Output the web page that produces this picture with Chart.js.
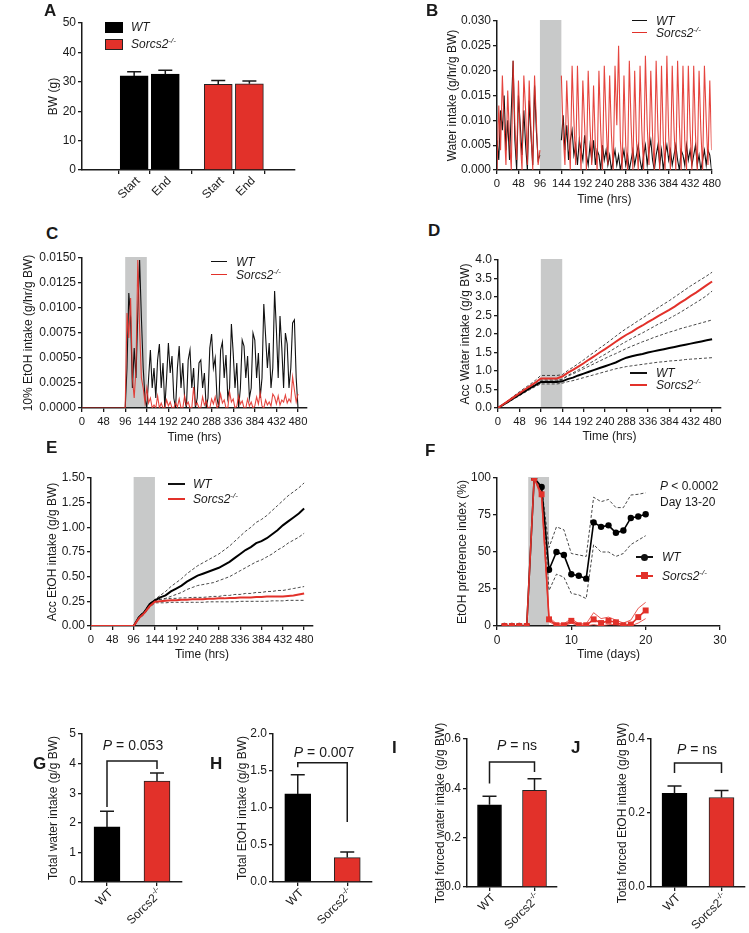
<!DOCTYPE html>
<html>
<head>
<meta charset="utf-8">
<script src="https://cdn.jsdelivr.net/npm/chart.js@4.4.1/dist/chart.umd.min.js"></script>
<style>
  body { margin: 0; background: #fff; width: 749px; height: 933px; position: relative; overflow: hidden;
         font-family: 'Liberation Sans', Arial, sans-serif; color: #1a1a1a; }
  canvas { position: absolute; }
  .L { position: absolute; font-weight: bold; font-size: 17px; line-height: 17px; }
  .t { position: absolute; font-size: 12px; line-height: 14px; white-space: nowrap; }
  .p { position: absolute; font-size: 14px; line-height: 16px; white-space: nowrap; transform: translate(-50%, -50%); }
  .ln { position: absolute; }
  i { font-style: italic; }
  sup { font-size: 8px; vertical-align: 5px; line-height: 0; }
</style>
</head>
<body>
<canvas id="cA"></canvas><canvas id="cB"></canvas><canvas id="cC"></canvas><canvas id="cD"></canvas>
<canvas id="cE"></canvas><canvas id="cF"></canvas><canvas id="cG"></canvas><canvas id="cH"></canvas>
<canvas id="cI"></canvas><canvas id="cJ"></canvas>

<div class="L" style="left:44px;top:2px">A</div>
<div class="L" style="left:426px;top:2px">B</div>
<div class="L" style="left:46px;top:225px">C</div>
<div class="L" style="left:428px;top:222px">D</div>
<div class="L" style="left:46px;top:439px">E</div>
<div class="L" style="left:425px;top:442px">F</div>
<div class="L" style="left:33px;top:755px">G</div>
<div class="L" style="left:210px;top:755px">H</div>
<div class="L" style="left:392px;top:739px">I</div>
<div class="L" style="left:571px;top:739px">J</div>

<!-- A legend -->
<div class="ln" style="left:105px;top:22px;width:16px;height:9px;background:#000;border:1px solid #000"></div>
<div class="ln" style="left:105px;top:39px;width:16px;height:9px;background:#e2312a;border:1px solid #222"></div>
<div class="t" style="left:131px;top:20px"><i>WT</i></div>
<div class="t" style="left:131px;top:37px"><i>Sorcs2<sup>-/-</sup></i></div>
<!-- B legend -->
<div class="ln" style="left:632px;top:20px;width:15px;height:1.2px;background:#111"></div>
<div class="ln" style="left:632px;top:32px;width:15px;height:1.2px;background:#e2312a"></div>
<div class="t" style="left:656px;top:14px"><i>WT</i></div>
<div class="t" style="left:656px;top:26px"><i>Sorcs2<sup>-/-</sup></i></div>
<!-- C legend -->
<div class="ln" style="left:211px;top:261px;width:16px;height:1.2px;background:#111"></div>
<div class="ln" style="left:211px;top:274px;width:16px;height:1.2px;background:#e2312a"></div>
<div class="t" style="left:236px;top:255px"><i>WT</i></div>
<div class="t" style="left:236px;top:268px"><i>Sorcs2<sup>-/-</sup></i></div>
<!-- D legend -->
<div class="ln" style="left:630px;top:372px;width:17px;height:2px;background:#111"></div>
<div class="ln" style="left:630px;top:384px;width:17px;height:2px;background:#e2312a"></div>
<div class="t" style="left:656px;top:366px"><i>WT</i></div>
<div class="t" style="left:656px;top:378px"><i>Sorcs2<sup>-/-</sup></i></div>
<!-- E legend -->
<div class="ln" style="left:168px;top:483px;width:17px;height:2px;background:#111"></div>
<div class="ln" style="left:168px;top:498px;width:17px;height:2px;background:#e2312a"></div>
<div class="t" style="left:193px;top:477px"><i>WT</i></div>
<div class="t" style="left:193px;top:492px"><i>Sorcs2<sup>-/-</sup></i></div>
<!-- F legend and note -->
<div class="ln" style="left:636px;top:556px;width:17px;height:1.5px;background:#111"></div>
<div class="ln" style="left:641px;top:554px;width:7px;height:7px;background:#111;border-radius:50%"></div>
<div class="ln" style="left:636px;top:575px;width:17px;height:1.5px;background:#e2312a"></div>
<div class="ln" style="left:641px;top:572px;width:7px;height:7px;background:#e2312a"></div>
<div class="t" style="left:662px;top:550px"><i>WT</i></div>
<div class="t" style="left:662px;top:569px"><i>Sorcs2<sup>-/-</sup></i></div>
<div class="t" style="left:660px;top:479px"><i>P</i> &lt; 0.0002</div>
<div class="t" style="left:660px;top:495px">Day 13-20</div>
<!-- P values -->
<div class="p" style="left:133px;top:745px"><i>P</i> = 0.053</div>
<div class="p" style="left:324px;top:752px"><i>P</i> = 0.007</div>
<div class="p" style="left:517px;top:745px"><i>P</i> = ns</div>
<div class="p" style="left:697px;top:749px"><i>P</i> = ns</div>

<script>
const INK = '#1a1a1a';
const RED = '#e2312a';

// ---------- data ----------
// A: body weight
const aLabels = ['Start', 'End', 'Start', 'End'];
const aSlots = [1, 2, 3.7, 4.7];
const aWT = [32.0, 32.6];
const aWTerr = [1.4, 1.35];
const aKO = [29.1, 29.3];
const aKOerr = [1.3, 1.0];
const aYTicks = [0, 10, 20, 30, 40, 50];

// B: water intake, one value every 4 h (null = no water bottle)
const B_STEP = 4;
const bWT = [
  .006, .002, .012, .008, .015, .004, .010, .002, .012, .022, .006, .000, .015, .009, .003, .012, .005, .000,
  .014, .007, .001, .017, .008, .002, .003,
  null, null, null, null, null, null, null, null, null, null, null,
  .006, .011, .004, .009, .002, .006, .008, .003, .005, .001, .006, .004, .002, .007, .003, .001, .005, .002,
  .006, .001, .004, .003, .000, .005, .002, .004, .001, .003, .000, .002, .004, .001, .003, .000, .002, .004,
  .001, .003, .000, .002, .004, .001, .003, .005, .002, .000, .003, .005, .001, .004, .006, .002, .000, .003,
  .005, .001, .004, .000, .003, .005, .002, .004, .001, .003, .005, .002, .000, .004, .003, .001, .005, .002,
  .004, .001, .003, .005, .001, .003, .000, .002, .004, .001, .004, .003, .000
];
const bKO = [
  .000, .013, .004, .019, .009, .001, .016, .006, .000, .022, .009, .002, .018, .006, .000, .019, .012, .001,
  .018, .008, .000, .019, .010, .001, .004,
  null, null, null, null, null, null, null, null, null, null, null,
  .019, .007, .001, .018, .008, .000, .021, .010, .001, .021, .007, .000, .018, .009, .000, .020, .009, .001,
  .017, .005, .000, .020, .008, .000, .021, .010, .001, .019, .007, .000, .021, .009, .025, .006, .000, .019,
  .005, .000, .022, .009, .000, .020, .006, .000, .021, .008, .000, .023, .009, .001, .020, .007, .000, .022,
  .008, .000, .021, .006, .000, .023, .007, .000, .021, .008, .000, .022, .009, .000, .021, .006, .000, .021,
  .008, .000, .021, .007, .000, .020, .008, .000, .021, .010, .001, .018, .004
];
const bYTicks = [0, 0.005, 0.010, 0.015, 0.020, 0.025, 0.030];
const hourTicks = [0, 48, 96, 144, 192, 240, 288, 336, 384, 432, 480];

// C: 10% EtOH intake, one value every 4 h
const C_STEP = 4;
const cWT = [
  0, 0, 0, 0, 0, 0, 0, 0, 0, 0, 0, 0, 0, 0, 0, 0, 0, 0, 0, 0, 0, 0, 0, 0,
  0, .004, .0115, .009, .002, .006, .003, .0095, .0148, .009, .004, .001,
  .000, .003, .0058, .002, .004, .001, .0048, .0064, .002, .0045, .000, .003, .0065, .0035, .0052, .001, .000, .004,
  .0062, .002, .0045, .001, .000, .0048, .0058, .002, .004, .000, .001, .0045, .0048, .002, .0035, .000, .001, .006,
  .0074, .004, .005, .001, .000, .0058, .0066, .003, .0053, .001, .002, .0084, .0055, .002, .0045, .000, .002, .0068,
  .0062, .003, .0052, .001, .002, .0075, .0068, .003, .0055, .001, .003, .0104, .0072, .004, .0065, .002, .004, .0117,
  .0078, .003, .0092, .006, .002, .0075, .0064, .002, .004, .0085, .0088, .003, .000
];
const cKO = [
  0, 0, 0, 0, 0, 0, 0, 0, 0, 0, 0, 0, 0, 0, 0, 0, 0, 0, 0, 0, 0, 0, 0, 0,
  0, .0095, .007, .011, .003, .001, .004, .0148, .008, .003, .002, .0005,
  .002, .0005, .001, .000, .0003, .000, .0012, .000, .0005, 0, 0, .0008, .0002, .0006, 0, 0, .0005, .0001,
  .0009, 0, 0, .0012, .0003, .0006, 0, 0, .0021, .0003, .0005, 0, 0, .0011, .0003, .0007, 0, 0,
  .0009, .0004, .0011, 0, .0003, .0014, .0005, .0008, 0, 0, .0016, .0006, .0009, 0, .0002, .0012, .0004, .0007,
  0, 0, .0009, .0002, .0006, 0, .0002, .0011, .0004, .0015, .0002, 0, .0008, .0003, .0006, .0002, .0014, .0011,
  .0004, .0012, .0003, .0008, .0006, .0013, .0005, .0009, .0006, .0031, .0018, .0006, .0014
];
const cYTicks = [0, 0.0025, 0.0050, 0.0075, 0.0100, 0.0125, 0.0150];

// D: accumulated water intake, every 12 h (mean and mean +/- SEM)
const D_STEP = 12;
const dWT = [0, .09, .18, .27, .36, .45, .54, .62, .70, .70, .70, .70, .72,
  .78, .82, .88, .93, .98, 1.03, 1.08, 1.13, 1.18, 1.23, 1.30, 1.36, 1.40, 1.43, 1.46, 1.50,
  1.53, 1.56, 1.59, 1.62, 1.65, 1.68, 1.71, 1.74, 1.77, 1.80, 1.83, 1.86];
const dWTup = [0, .10, .20, .29, .39, .48, .58, .67, .76, .76, .76, .76, .78,
  .86, .92, .99, 1.06, 1.13, 1.20, 1.27, 1.34, 1.41, 1.47, 1.54, 1.61, 1.67, 1.73, 1.79, 1.84,
  1.90, 1.95, 2.00, 2.05, 2.09, 2.14, 2.18, 2.22, 2.26, 2.30, 2.34, 2.38];
const dWTlo = [0, .08, .16, .25, .33, .42, .50, .58, .65, .65, .65, .65, .67,
  .71, .74, .78, .82, .86, .90, .94, .98, 1.02, 1.06, 1.09, 1.12, 1.14, 1.16, 1.18, 1.20,
  1.22, 1.24, 1.25, 1.27, 1.28, 1.29, 1.31, 1.32, 1.33, 1.34, 1.35, 1.36];
const dKO = [0, .10, .20, .30, .40, .50, .59, .69, .80, .80, .80, .80, .85,
  .95, 1.03, 1.12, 1.21, 1.31, 1.40, 1.50, 1.59, 1.69, 1.79, 1.89, 1.98, 2.06, 2.15, 2.23, 2.32,
  2.40, 2.49, 2.57, 2.65, 2.74, 2.84, 2.93, 3.03, 3.12, 3.22, 3.32, 3.42];
const dKOup = [0, .11, .22, .33, .44, .54, .64, .75, .88, .88, .88, .88, .90,
  1.01, 1.10, 1.20, 1.30, 1.41, 1.51, 1.62, 1.72, 1.83, 1.94, 2.05, 2.15, 2.24, 2.34, 2.43, 2.53,
  2.62, 2.72, 2.81, 2.90, 3.00, 3.10, 3.20, 3.30, 3.39, 3.48, 3.57, 3.67];
const dKOlo = [0, .09, .18, .27, .36, .46, .54, .63, .73, .73, .73, .73, .77,
  .88, .95, 1.03, 1.11, 1.20, 1.28, 1.37, 1.45, 1.54, 1.63, 1.72, 1.80, 1.88, 1.96, 2.03, 2.11,
  2.19, 2.27, 2.34, 2.42, 2.50, 2.58, 2.67, 2.76, 2.85, 2.94, 3.04, 3.16];
const dYTicks = [0, 0.5, 1.0, 1.5, 2.0, 2.5, 3.0, 3.5, 4.0];

// E: accumulated EtOH intake, every 12 h
const E_STEP = 12;
const eWT = [0, 0, 0, 0, 0, 0, 0, 0, 0, .09, .14, .22, .26,
  .29, .31, .35, .38, .41, .45, .48, .51, .53, .55, .57, .59, .62, .65, .69, .73,
  .77, .80, .84, .86, .89, .93, .97, 1.02, 1.06, 1.10, 1.14, 1.19];
const eWTup = [0, 0, 0, 0, 0, 0, 0, 0, 0, .10, .15, .23, .27,
  .31, .35, .40, .44, .48, .53, .57, .61, .64, .67, .70, .73, .77, .81, .86, .91,
  .96, 1.00, 1.05, 1.08, 1.12, 1.17, 1.22, 1.27, 1.32, 1.36, 1.40, 1.45];
const eWTlo = [0, 0, 0, 0, 0, 0, 0, 0, 0, .08, .13, .21, .25,
  .27, .28, .30, .32, .34, .37, .39, .41, .42, .43, .44, .46, .48, .50, .53, .56,
  .59, .62, .65, .67, .70, .73, .77, .80, .84, .87, .90, .94];
const eKO = [0, 0, 0, 0, 0, 0, 0, 0, 0, .08, .13, .20, .245,
  .25, .255, .26, .26, .265, .265, .27, .27, .27, .275, .275, .28, .28, .285, .285, .29,
  .29, .29, .295, .295, .30, .30, .30, .30, .305, .31, .32, .33];
const eKOup = [0, 0, 0, 0, 0, 0, 0, 0, 0, .09, .14, .21, .26,
  .27, .275, .28, .28, .285, .285, .29, .29, .29, .295, .30, .30, .31, .31, .32, .32,
  .33, .33, .34, .34, .35, .35, .36, .36, .37, .38, .39, .40];
const eKOlo = [0, 0, 0, 0, 0, 0, 0, 0, 0, .07, .12, .19, .235,
  .235, .235, .24, .24, .24, .24, .24, .24, .24, .245, .245, .245, .245, .245, .245, .25,
  .25, .25, .25, .25, .25, .255, .255, .255, .26, .26, .26, .26];
const eYTicks = [0, 0.25, 0.50, 0.75, 1.00, 1.25, 1.50];

// F: EtOH preference index per day
const fDays = [1, 2, 3, 4, 5, 6, 7, 8, 9, 10, 11, 12, 13, 14, 15, 16, 17, 18, 19, 20];
const fWT = [0, 0, 0, 0, 100, 94, 38, 50, 48, 35, 34, 32, 70, 67, 68, 63, 64.5, 73, 74, 75.5];
const fWTup = [null, null, null, null, null, 94, 53, 67, 65, 49, 48, 47, 87, 84, 85.5, 80, 80, 88.5, 89, 90];
const fWTlo = [null, null, null, null, null, 94, 24, 35, 33, 22, 21, 18.5, 55, 50, 50, 47, 49, 55, 58, 61];
const fKO = [0, 0, 0, 0, 100, 89, 4.5, 0.5, 0.5, 3.5, 0.5, 0.5, 4.5, 2, 3.5, 2.5, 0.5, 1, 6, 10.5];
const fKOup = [null, null, null, null, 100, 92, 6, 1.5, 1.5, 5, 1.5, 1.5, 9, 5, 6, 4, 2, 4, 12, 16];
const fKOlo = [null, null, null, null, 100, 86, 3, 0, 0, 2, 0, 0, 1, 0, 1, 1, 0, 0, 2, 5];
const fXTicks = [0, 10, 20, 30];
const fYTicks = [0, 25, 50, 75, 100];

// G-J: totals, WT vs Sorcs2-/-
const groups = ['WT', 'Sorcs2|-/-'];
const gVals = [1.86, 3.41];   const gErr = [0.53, 0.27];   const gTicks = [0, 1, 2, 3, 4, 5];
const hVals = [1.19, 0.33];   const hErr = [0.26, 0.075];  const hTicks = [0, 0.5, 1.0, 1.5, 2.0];
const iVals = [0.333, 0.392]; const iErr = [0.035, 0.047]; const iTicks = [0, 0.2, 0.4, 0.6];
const jVals = [0.253, 0.242]; const jErr = [0.02, 0.019];  const jTicks = [0, 0.2, 0.4];
// brackets: [top, left leg end, right leg end]
const gBracket = [4.09, 2.53, 3.82];
const hBracket = [1.61, 1.55, 0.81];
const iBracket = [0.507, 0.42, 0.466];
const jBracket = [0.335, 0.308, 0.308];

// ---------- plugins ----------
const shade = {
  id: 'shade',
  beforeDatasetsDraw(chart, args, o) {
    if (o.from == null) return;
    const xs = chart.scales.x, a = chart.chartArea, ctx = chart.ctx;
    const x1 = xs.getPixelForValue(o.from), x2 = xs.getPixelForValue(o.to);
    ctx.save();
    ctx.fillStyle = '#c8c9c9';
    ctx.fillRect(x1, a.top - 1, x2 - x1, a.bottom - a.top);
    ctx.restore();
  }
};

const errBars = {
  id: 'errBars',
  afterDatasetsDraw(chart) {
    const ctx = chart.ctx, ys = chart.scales.y;
    chart.data.datasets.forEach((ds, di) => {
      if (!ds.err) return;
      chart.getDatasetMeta(di).data.forEach((bar, i) => {
        const d = ds.data[i];
        const v = typeof d === 'object' ? d.y : d;
        const top = ys.getPixelForValue(v + ds.err[i]);
        ctx.save();
        ctx.strokeStyle = INK;
        ctx.lineWidth = 1.5;
        ctx.beginPath();
        ctx.moveTo(bar.x, bar.y);
        ctx.lineTo(bar.x, top);
        ctx.moveTo(bar.x - 7, top);
        ctx.lineTo(bar.x + 7, top);
        ctx.stroke();
        ctx.restore();
      });
    });
  }
};

const bracket = {
  id: 'bracket',
  afterDatasetsDraw(chart, args, o) {
    if (!o.levels) return;
    const xs = chart.scales.x, ys = chart.scales.y, ctx = chart.ctx;
    const [top, l, r] = o.levels;
    const x1 = xs.getPixelForTick(0), x2 = xs.getPixelForTick(1);
    ctx.save();
    ctx.strokeStyle = INK;
    ctx.lineWidth = 1.5;
    ctx.beginPath();
    ctx.moveTo(x1, ys.getPixelForValue(l));
    ctx.lineTo(x1, ys.getPixelForValue(top));
    ctx.lineTo(x2, ys.getPixelForValue(top));
    ctx.lineTo(x2, ys.getPixelForValue(r));
    ctx.stroke();
    ctx.restore();
  }
};

// 45 degree tick labels, "base|sup" gets a superscript
const rotLabels = {
  id: 'rotLabels',
  afterDraw(chart, args, o) {
    if (!o.labels) return;
    const ctx = chart.ctx, xs = chart.scales.x;
    const fam = "'Liberation Sans', Arial, sans-serif";
    o.labels.forEach((lab, i) => {
      const x = o.values ? xs.getPixelForValue(o.values[i]) : xs.getPixelForTick(i);
      const [base, sup] = lab.split('|');
      ctx.save();
      ctx.fillStyle = INK;
      ctx.translate(x + 4, xs.top + 9);
      ctx.rotate(-Math.PI / 4);
      ctx.textBaseline = 'middle';
      ctx.font = '12px ' + fam;
      const wb = ctx.measureText(base).width;
      ctx.font = '8px ' + fam;
      const ws = sup ? ctx.measureText(sup).width : 0;
      ctx.font = '12px ' + fam;
      ctx.fillText(base, -wb - ws, 0);
      if (sup) {
        ctx.font = '8px ' + fam;
        ctx.fillText(sup, -ws, -4);
      }
      ctx.restore();
    });
  }
};

Chart.register(shade, errBars, bracket, rotLabels);
Chart.defaults.font.family = "'Liberation Sans', Arial, sans-serif";
Chart.defaults.font.size = 12;
Chart.defaults.color = INK;
Chart.defaults.animation = false;
Chart.defaults.plugins.legend.display = false;
Chart.defaults.plugins.tooltip.enabled = false;

// ---------- helpers ----------
function place(id, box) {
  const c = document.getElementById(id);
  c.width = box[2] - box[0];
  c.height = box[3] - box[1];
  c.style.left = box[0] + 'px';
  c.style.top = box[1] + 'px';
  return c;
}

function yAxis(box, plot, ticks, dec, title) {
  return {
    type: 'linear', min: ticks[0], max: ticks[ticks.length - 1],
    afterBuildTicks: s => { s.ticks = ticks.map(v => ({ value: v })); },
    afterFit: s => { s.width = plot[0] - box[0]; },
    ticks: { callback: v => Number(v).toFixed(dec), padding: 2, autoSkip: false },
    grid: { drawOnChartArea: false, tickLength: 4, color: INK, lineWidth: 1.3 },
    border: { color: INK, width: 1.5 },
    title: { display: true, text: title, padding: 0 }
  };
}

function xLinear(box, plot, min, max, ticks, title, showLabels, size) {
  return {
    type: 'linear', min, max,
    afterBuildTicks: s => { s.ticks = ticks.map(v => ({ value: v })); },
    afterFit: s => { s.height = box[3] - plot[3]; },
    ticks: { display: showLabels, callback: v => String(v), padding: 3, autoSkip: false, maxRotation: 0,
             font: { size: size || 12 } },
    grid: { drawOnChartArea: false, tickLength: 4, color: INK, lineWidth: 1.3 },
    border: { color: INK, width: 1.5 },
    title: { display: !!title, text: title, padding: 0 }
  };
}

function layout(box, plot) {
  return { padding: { top: plot[1] - box[1], right: box[2] - plot[2], left: 0, bottom: 0 } };
}

const pts = (xs, vals) => vals.map((v, i) => ({ x: xs[i], y: v }));
const stepPts = (step, vals) => vals.map((v, i) => ({ x: i * step, y: v }));

function line(data, color, width, dash) {
  return { data, borderColor: color, borderWidth: width, borderDash: dash || [],
           pointRadius: 0, fill: false, tension: 0, spanGaps: false };
}

// ---------- A ----------
(() => {
  const box = [46, 10, 306, 205], plot = [82, 23, 295, 170];
  new Chart(place('cA', box), {
    type: 'bar',
    data: {
      datasets: [
        { data: pts(aSlots.slice(0, 2), aWT), err: aWTerr, backgroundColor: '#000', borderColor: '#000',
          borderWidth: 1, barThickness: 28, grouped: false },
        { data: pts(aSlots.slice(2), aKO), err: aKOerr, backgroundColor: RED, borderColor: '#222',
          borderWidth: 1, barThickness: 28, grouped: false }
      ]
    },
    options: {
      responsive: false, layout: layout(box, plot),
      scales: {
        x: xLinear(box, plot, 0.18, 5.31, aSlots, '', false),
        y: yAxis(box, plot, aYTicks, 0, 'BW (g)')
      },
      plugins: { rotLabels: { labels: aLabels, values: aSlots } }
    }
  });
})();

// ---------- B ----------
(() => {
  const box = [445, 8, 724, 207], plot = [497, 21, 714, 170];
  new Chart(place('cB', box), {
    type: 'line',
    data: {
      datasets: [
        line(stepPts(B_STEP, bKO), 'rgba(226,49,42,0.9)', 1.1),
        line(stepPts(B_STEP, bWT), '#111', 1.1)
      ]
    },
    options: {
      responsive: false, layout: layout(box, plot),
      scales: {
        x: xLinear(box, plot, 0, 480, hourTicks, 'Time (hrs)', true, 11.3),
        y: yAxis(box, plot, bYTicks, 3, 'Water intake (g/hr/g BW)')
      },
      plugins: { shade: { from: 96, to: 144 } }
    }
  });
})();

// ---------- C ----------
(() => {
  const box = [21, 245, 317, 445], plot = [82, 258, 307, 408];
  new Chart(place('cC', box), {
    type: 'line',
    data: {
      datasets: [
        line(stepPts(C_STEP, cKO), 'rgba(226,49,42,0.9)', 1.1),
        line(stepPts(C_STEP, cWT), '#111', 1.1)
      ]
    },
    options: {
      responsive: false, layout: layout(box, plot),
      scales: {
        x: xLinear(box, plot, 0, 500, hourTicks, 'Time (hrs)', true, 11.3),
        y: yAxis(box, plot, cYTicks, 4, '10% EtOH intake (g/hr/g BW)')
      },
      plugins: { shade: { from: 96, to: 144 } }
    }
  });
})();

// ---------- D ----------
(() => {
  const box = [458, 245, 731, 444], plot = [498, 260, 721, 408];
  new Chart(place('cD', box), {
    type: 'line',
    data: {
      datasets: [
        line(stepPts(D_STEP, dKO), RED, 2),
        line(stepPts(D_STEP, dWT), '#000', 2),
        line(stepPts(D_STEP, dKOup), '#333', 0.9, [3, 2]),
        line(stepPts(D_STEP, dKOlo), '#333', 0.9, [3, 2]),
        line(stepPts(D_STEP, dWTup), '#333', 0.9, [3, 2]),
        line(stepPts(D_STEP, dWTlo), '#333', 0.9, [3, 2])
      ]
    },
    options: {
      responsive: false, layout: layout(box, plot),
      scales: {
        x: xLinear(box, plot, 0, 500, hourTicks, 'Time (hrs)', true, 11.3),
        y: yAxis(box, plot, dYTicks, 1, 'Acc Water intake (g/g BW)')
      },
      plugins: { shade: { from: 96, to: 144 } }
    }
  });
})();

// ---------- E ----------
(() => {
  const box = [45, 465, 323, 662], plot = [91, 478, 313, 626];
  new Chart(place('cE', box), {
    type: 'line',
    data: {
      datasets: [
        line(stepPts(E_STEP, eKO), RED, 2),
        line(stepPts(E_STEP, eWT), '#000', 2),
        line(stepPts(E_STEP, eKOup), '#333', 0.9, [3, 2]),
        line(stepPts(E_STEP, eKOlo), '#333', 0.9, [3, 2]),
        line(stepPts(E_STEP, eWTup), '#333', 0.9, [3, 2]),
        line(stepPts(E_STEP, eWTlo), '#333', 0.9, [3, 2])
      ]
    },
    options: {
      responsive: false, layout: layout(box, plot),
      scales: {
        x: xLinear(box, plot, 0, 500, hourTicks, 'Time (hrs)', true, 11.3),
        y: yAxis(box, plot, eYTicks, 2, 'Acc EtOH intake (g/g BW)')
      },
      plugins: { shade: { from: 96, to: 144 } }
    }
  });
})();

// ---------- F ----------
(() => {
  const box = [455, 465, 732, 662], plot = [497, 478, 720, 626];
  const mean = (vals, color, style, r) => ({
    data: pts(fDays, vals), borderColor: color, backgroundColor: color, borderWidth: 1.6,
    pointStyle: style, pointRadius: r, pointBorderWidth: 0, tension: 0, fill: false
  });
  new Chart(place('cF', box), {
    type: 'line',
    data: {
      datasets: [
        mean(fKO, RED, 'rect', 4.2),
        mean(fWT, '#000', 'circle', 3.2),
        line(pts(fDays, fKOup), RED, 0.8),
        line(pts(fDays, fKOlo), RED, 0.8),
        line(pts(fDays, fWTup), '#333', 0.9, [3, 2]),
        line(pts(fDays, fWTlo), '#333', 0.9, [3, 2])
      ]
    },
    options: {
      responsive: false, layout: layout(box, plot),
      scales: {
        x: xLinear(box, plot, 0, 30, fXTicks, 'Time (days)', true),
        y: yAxis(box, plot, fYTicks, 0, 'EtOH preference index (%)')
      },
      plugins: { shade: { from: 4.2, to: 7 } }
    }
  });
})();

// ---------- G-J ----------
function totals(id, box, plot, vals, err, ticks, dec, title, levels, barW) {
  new Chart(place(id, box), {
    type: 'bar',
    data: {
      labels: groups,
      datasets: [{ data: vals, err, backgroundColor: ['#000', RED], borderColor: ['#000', '#222'],
                   borderWidth: 1, barThickness: barW }]
    },
    options: {
      responsive: false, layout: layout(box, plot),
      scales: {
        x: {
          type: 'category', offset: true,
          afterFit: s => { s.height = box[3] - plot[3]; },
          ticks: { display: false },
          grid: { drawOnChartArea: false, offset: false, tickLength: 4, color: INK, lineWidth: 1.3 },
          border: { color: INK, width: 1.5 }
        },
        y: yAxis(box, plot, ticks, dec, title)
      },
      plugins: { rotLabels: { labels: groups }, bracket: { levels } }
    }
  });
}
totals('cG', [46, 715, 192, 933], [82, 734, 182, 882], gVals, gErr, gTicks, 0,
       'Total water intake (g/g BW)', gBracket, 26);
totals('cH', [235, 715, 382, 933], [273, 734, 372, 882], hVals, hErr, hTicks, 1,
       'Total EtOH intake (g/g BW)', hBracket, 26);
totals('cI', [433, 712, 567, 933], [467, 739, 557, 887], iVals, iErr, iTicks, 1,
       'Total forced water intake (g/g BW)', iBracket, 24);
totals('cJ', [615, 712, 749, 933], [651, 739, 745, 887], jVals, jErr, jTicks, 1,
       'Total forced EtOH intake (g/g BW)', jBracket, 25);
</script>
</body>
</html>
